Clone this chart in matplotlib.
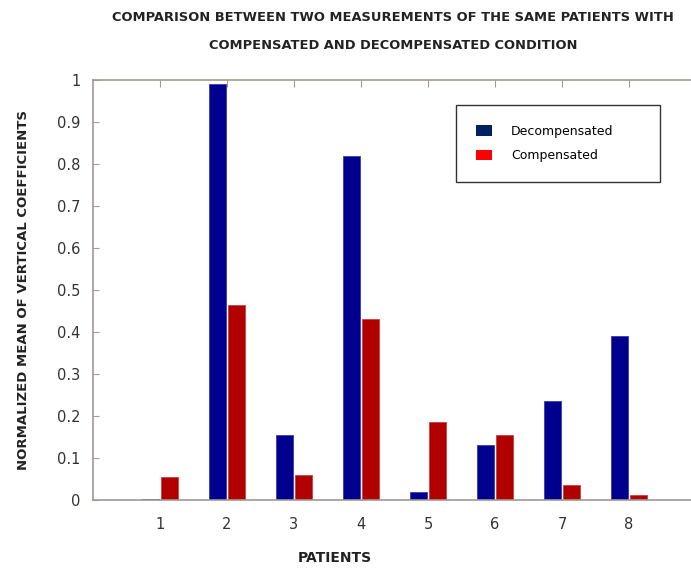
import matplotlib.pyplot as plt
from matplotlib.patches import Patch
import numpy as np

# Daten
patients = ['1', '2', '3', '4', '5', '6', '7', '8']
decompensated = [0.003, 0.99, 0.155, 0.82, 0.02, 0.13, 0.235, 0.39]
compensated = [0.055, 0.465, 0.06, 0.43, 0.185, 0.155, 0.035, 0.012]
yticks = [0, 0.1, 0.2, 0.3, 0.4, 0.5, 0.6, 0.7, 0.8, 0.9, 1]
ytick_labels = ['0', '0.1', '0.2', '0.3', '0.4', '0.5', '0.6', '0.7', '0.8', '0.9', '1']

plt.rcParams['font.family'] = ['Liberation Sans Narrow', 'DejaVu Sans']

fig = plt.figure(figsize=(6.91, 5.68), dpi=100)
ax = fig.add_axes([93/691, 68/568, 598/691, 420/568])

x = np.arange(1, len(patients) + 1)
w = 0.255

ax.bar(x - 0.135, decompensated, w, color='#00008f', edgecolor='#3a3ab0', linewidth=0.6)
ax.bar(x + 0.135, compensated, w, color='#b00000', edgecolor='#c84040', linewidth=0.6)

ax.set_xlim(0, 598/67)
ax.set_ylim(0, 1)

# Achsen / Spines
for s in ['left', 'top', 'bottom']:
    ax.spines[s].set_color('#a09a90')
    ax.spines[s].set_linewidth(1.2)
ax.spines['right'].set_visible(False)

ax.set_yticks(yticks)
ax.set_yticklabels(ytick_labels, fontfamily='DejaVu Sans')
ax.tick_params(axis='y', direction='in', length=4, color='#a09a90', labelsize=10.5,
               labelcolor='#333333', pad=9)

ax.set_xticks(x)
ax.set_xticklabels(patients, fontfamily='DejaVu Sans')
ax.tick_params(axis='x', bottom=False, top=True, direction='in', length=5,
               color='#a09a90', labelsize=10.5, labelcolor='#333333', pad=12)

# Legende
handles = [Patch(facecolor='#002060', label='Decompensated'),
           Patch(facecolor='#ff0000', label='Compensated')]
leg = ax.legend(handles=handles, loc='upper left', mode='expand',
                bbox_to_anchor=(363/598, 1 - 29/420, 204/598, 0.01),
                frameon=True, fancybox=False, edgecolor='black', fontsize=9,
                handlelength=1.3, handleheight=0.9, borderpad=1.6, labelspacing=0.9,
                handletextpad=1.5, borderaxespad=0)
leg.get_frame().set_linewidth(1.0)

fig.text(0.569, 0.980, 'COMPARISON BETWEEN TWO MEASUREMENTS OF THE SAME PATIENTS WITH\nCOMPENSATED AND DECOMPENSATED CONDITION',
         ha='center', va='top', fontsize=9.4, fontweight='bold', linespacing=2.45, color='#222222')

ax.set_ylabel('NORMALIZED MEAN OF VERTICAL COEFFICIENTS', fontsize=9.5, fontweight='bold',
              color='#222222')
ax.yaxis.set_label_coords(-69/598, 0.5)
ax.yaxis.label.set_va('center')
ax.set_xlabel('PATIENTS', fontsize=10, fontweight='bold', color='#222222')
ax.xaxis.set_label_coords((335 - 93)/598, -58/420)
ax.xaxis.label.set_va('center')

fig.savefig('out.png', dpi=100)
